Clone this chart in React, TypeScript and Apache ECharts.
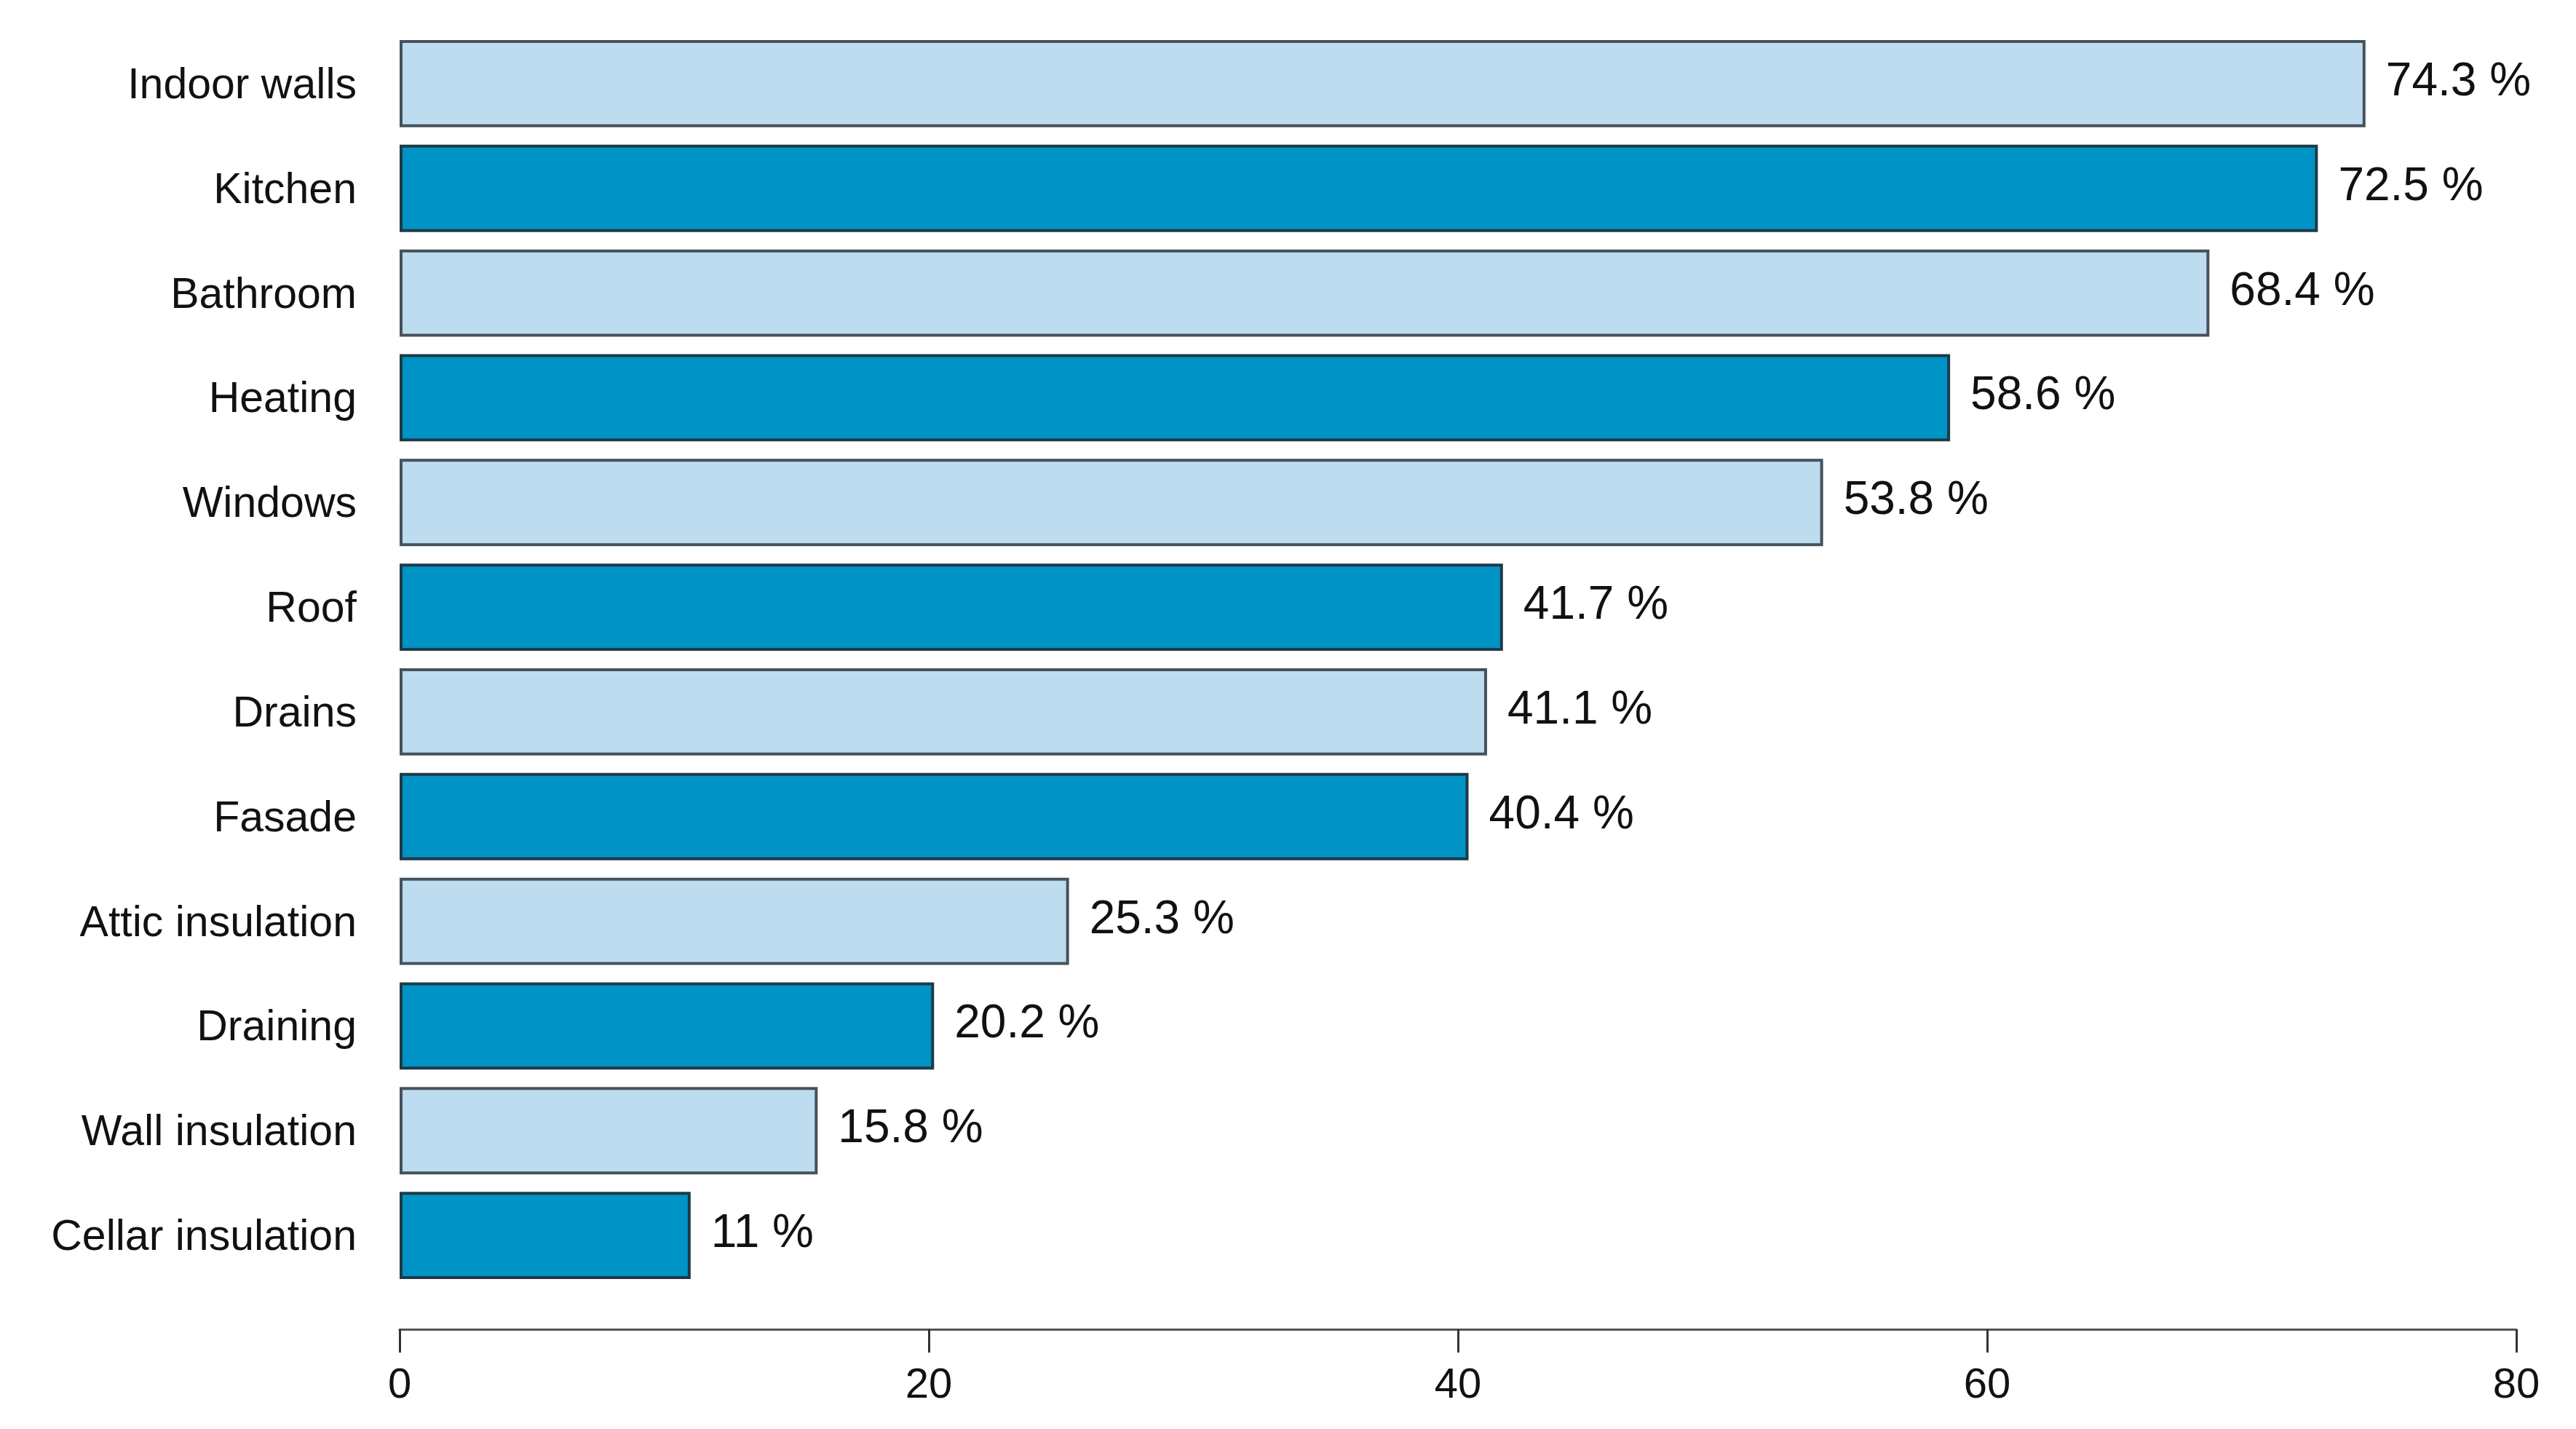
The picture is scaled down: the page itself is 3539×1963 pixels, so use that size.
import React, { useEffect, useRef } from "react";
import * as echarts from "echarts";

const categories = [
  "Indoor walls",
  "Kitchen",
  "Bathroom",
  "Heating",
  "Windows",
  "Roof",
  "Drains",
  "Fasade",
  "Attic insulation",
  "Draining",
  "Wall insulation",
  "Cellar insulation",
];
const values = [74.3, 72.5, 68.4, 58.6, 53.8, 41.7, 41.1, 40.4, 25.3, 20.2, 15.8, 11];
const xTicks = [0, 20, 40, 60, 80];
const lightColor = "#BEDCF0";
const darkColor = "#0093C6";

export default function App() {
  const ref = useRef<HTMLDivElement>(null);
  useEffect(() => {
    if (!ref.current) return;
    const chart = echarts.init(ref.current, null, { renderer: "svg" });
    const font = "'Liberation Sans', Arial, Helvetica, sans-serif";
    chart.setOption({
      animation: false,
      backgroundColor: "#ffffff",
      grid: { left: 549, right: 82, top: 43, bottom: 194, containLabel: false },
      xAxis: {
        type: "value",
        min: xTicks[0],
        max: xTicks[xTicks.length - 1],
        interval: 20,
        offset: 57,
        splitLine: { show: false },
        axisLine: { show: true, lineStyle: { color: "#555", width: 3 } },
        axisTick: { show: true, length: 32, lineStyle: { color: "#333", width: 3 } },
        axisLabel: { margin: 44, fontSize: 58, color: "#111", fontFamily: font },
      },
      yAxis: {
        type: "category",
        data: categories,
        inverse: true,
        axisLine: { show: false },
        axisTick: { show: false },
        axisLabel: { margin: 59, fontSize: 59, color: "#111", fontFamily: font },
      },
      series: [
        {
          type: "bar",
          barCategoryGap: "16.7%",
          data: values.map((v, i) => ({
            value: v,
            itemStyle: {
              color: i % 2 === 0 ? lightColor : darkColor,
              borderColor: i % 2 === 0 ? "#45525c" : "#1d3a48",
              borderWidth: 4,
            },
          })),
          label: {
            show: true,
            position: "right",
            distance: 28,
            formatter: "{c} %",
            fontSize: 64,
            color: "#111",
            fontFamily: font,
            offset: [0, -6],
          },
        },
      ],
    });
    return () => chart.dispose();
  }, []);
  return (
    <div
      ref={ref}
      style={{ position: "fixed", left: 0, top: 0, width: "3539px", height: "1963px" }}
    />
  );
}
